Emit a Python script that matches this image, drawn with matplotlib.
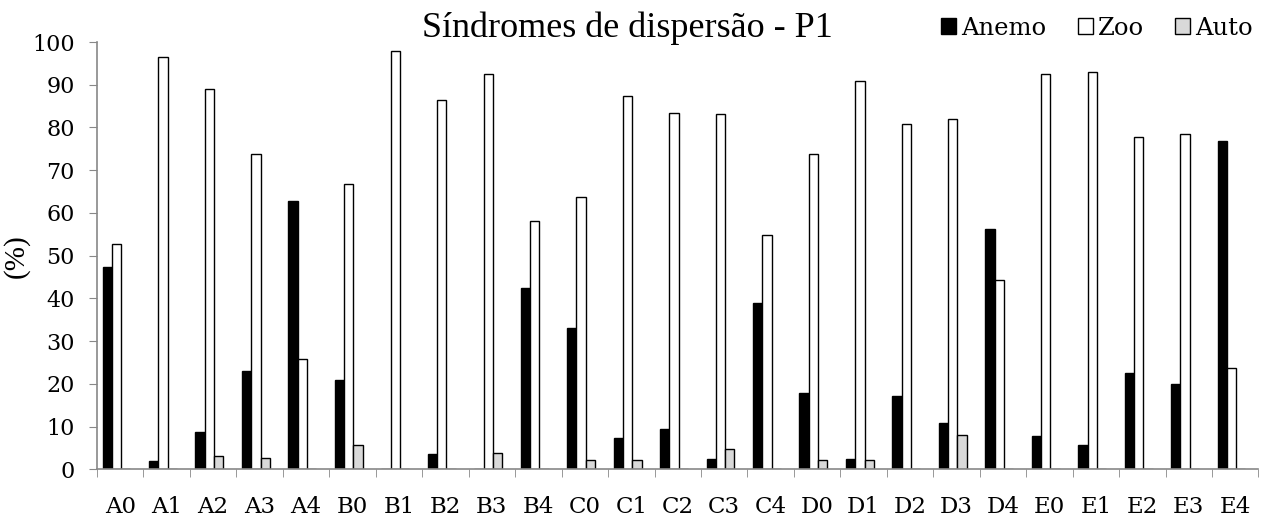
import matplotlib
matplotlib.use("Agg")
import matplotlib.pyplot as plt
import numpy as np

categories = ["A0","A1","A2","A3","A4","B0","B1","B2","B3","B4",
              "C0","C1","C2","C3","C4","D0","D1","D2","D3","D4",
              "E0","E1","E2","E3","E4"]
anemo = [47.3, 1.9, 8.6, 23.0, 62.9, 20.8, 0.0, 3.6, 0.0, 42.4,
         33.1, 7.3, 9.5, 2.3, 39.0, 17.9, 2.3, 17.1, 10.8, 56.2,
         7.7, 5.7, 22.6, 20.0, 76.9]
zoo = [52.7, 96.6, 89.1, 73.9, 25.8, 66.8, 97.9, 86.5, 92.4, 58.0,
       63.7, 87.4, 83.5, 83.2, 54.9, 73.9, 90.8, 80.7, 81.9, 44.4,
       92.4, 92.9, 77.7, 78.5, 23.7]
auto = [0.0, 0.0, 3.0, 2.7, 0.0, 5.6, 0.0, 0.0, 3.9, 0.0,
        2.2, 2.2, 0.0, 4.7, 0.0, 2.2, 2.2, 0.0, 8.1, 0.0,
        0.0, 0.0, 0.0, 0.0, 0.0]
series_names = ["Anemo", "Zoo", "Auto"]
yticks = list(range(0, 101, 10))

fig = plt.figure(figsize=(12.68, 5.32), dpi=100)
ax = fig.add_axes([0.0765, 0.118, 0.916, 0.803])

x = np.arange(len(categories))
w = 0.2
tick_font = "DejaVu Serif"
ax.bar(x - w - 0.08, anemo, w, color="black", edgecolor="black", linewidth=1, label=series_names[0])
ax.bar(x - 0.08, zoo, w, color="white", edgecolor="black", linewidth=1, label=series_names[1])
ax.bar(x + w - 0.08, auto, w, color="#d9d9d9", edgecolor="black", linewidth=1, label=series_names[2])

ax.set_xlim(-0.5, len(categories) - 0.5)
ax.set_ylim(0, 100)
ax.set_yticks(yticks)
ax.set_yticklabels([str(v) for v in yticks], fontfamily=tick_font, fontsize=16)
ax.set_xticks(x)
ax.set_xticklabels(categories, fontfamily=tick_font, fontsize=16.5)
ax.set_xticks(np.arange(-0.5, len(categories), 1), minor=True)
ax.tick_params(axis="x", which="major", length=0, pad=19)
ax.tick_params(axis="x", which="minor", length=6, color="#888888", direction="out")
ax.tick_params(axis="y", length=6, color="#888888", pad=10)

for s in ["top", "right"]:
    ax.spines[s].set_visible(False)
for s in ["left", "bottom"]:
    ax.spines[s].set_color("#888888")
    ax.spines[s].set_linewidth(1.2)

ax.set_ylabel("(%)", fontfamily="Liberation Serif", fontsize=21, labelpad=2)

fig.text(0.495, 0.946, "Síndromes de dispersão - P1", ha="center", va="center",
         fontfamily="Liberation Serif", fontsize=26)

leg = fig.legend(loc="center right", bbox_to_anchor=(0.988, 0.947), ncol=3, frameon=False,
                 prop={"family": tick_font, "size": 17.5}, handlelength=0.62, handleheight=0.62,
                 handletextpad=0.2, columnspacing=1.3, borderaxespad=0, borderpad=0)

fig.savefig("out.png", dpi=100)
